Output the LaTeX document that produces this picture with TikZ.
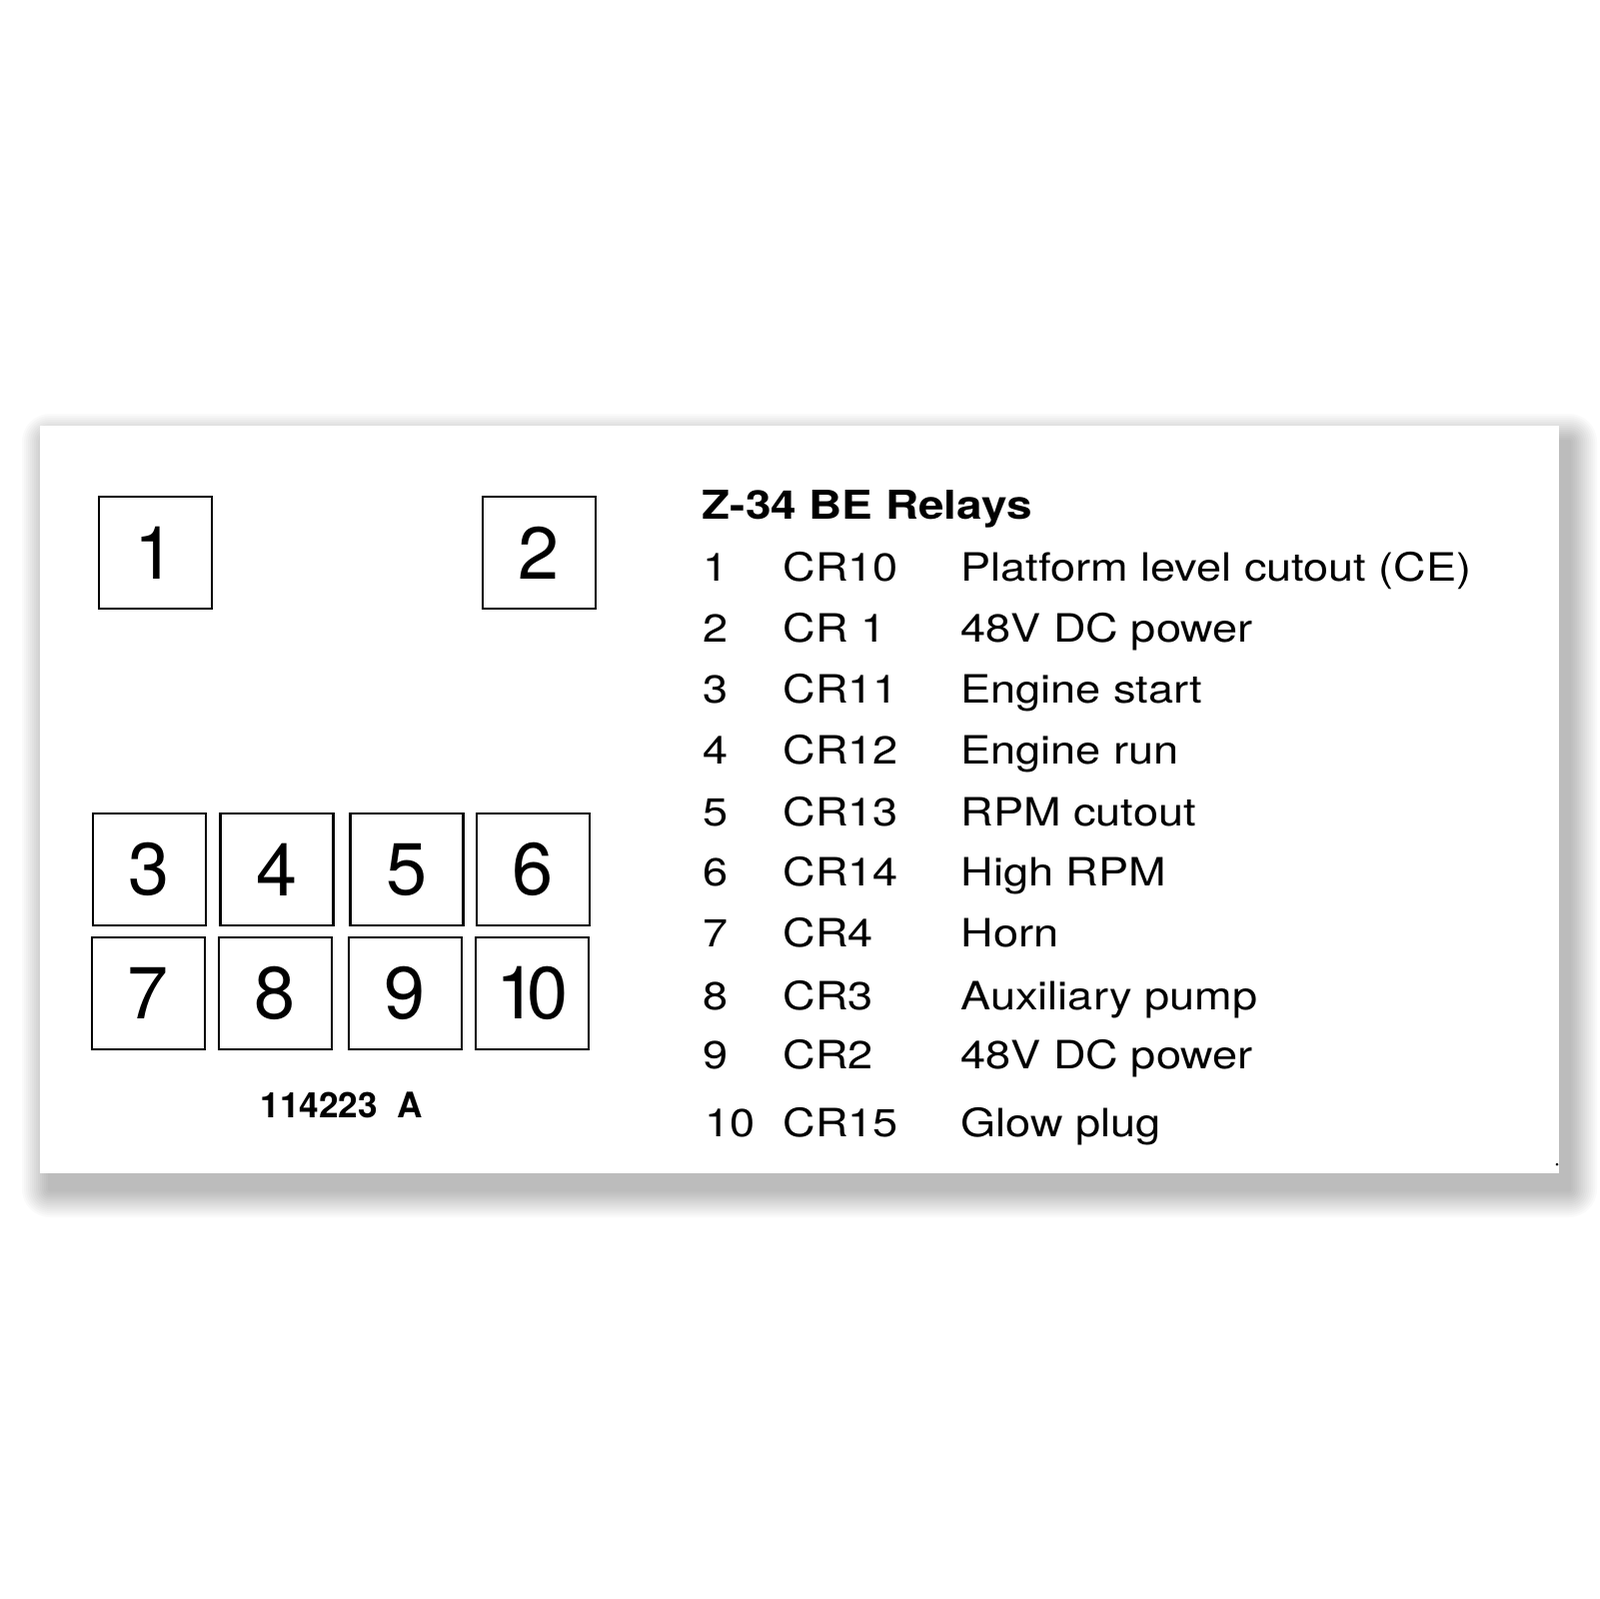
\documentclass[tikz,border=0pt]{standalone}
\usepackage{fontspec}
\setmainfont{TeX Gyre Heros}
\newfontfamily\relayfont{TeX Gyre Heros}[FakeStretch=1.155]

\begin{document}
\begin{tikzpicture}[x=0.1mm, y=-0.1mm,
	socket/.style={draw, line width=0.6pt, minimum width=11.3mm, minimum height=11.2mm, inner sep=0pt, font=\fontsize{21pt}{21pt}\selectfont},
	entry/.style={anchor=base west, inner sep=0pt, font=\relayfont\fontsize{11.1pt}{13pt}\selectfont}]
	\fill[white] (0,0) rectangle (1600,1600);
	\useasboundingbox (0,0) rectangle (1600,1600);
	% soft shadow under the card
	\foreach \r in {28,26,...,2}
		\fill[black, opacity=0.021, rounded corners=\r*0.1mm] (50-\r,442-\r) rectangle (1570+\r,1190+\r);
	% card
	\fill[white] (40,426) rectangle (1560,1174);
	% relay sockets
	\node[socket] (r1) at (155.5,553) {1};
	\node[socket] (r2) at (539.5,553) {2};
	\node[socket] (r3) at (149.5,870) {3};
	\node[socket] (r4) at (277,870) {4};
	\node[socket] (r5) at (407,870) {5};
	\node[socket] (r6) at (533.5,870) {6};
	\node[socket] (r7) at (148.5,994) {7};
	\node[socket] (r8) at (275.5,994) {8};
	\node[socket] (r9) at (405.5,994) {9};
	\node[socket] (r10) at (532.5,994) {1\kern-.14em0};
	\node[anchor=base west, inner sep=0pt, font=\bfseries\fontsize{10pt}{12pt}\selectfont] (part) at (260,1118) {114223~~A};
	% legend
	\node[entry, font=\relayfont\bfseries\fontsize{11.3pt}{13pt}\selectfont] (title) at (702,519) {Z-34 BE Relays};
	\node[entry] (n1) at (703,581) {1};
	\node[entry] (c1) at (783,581) {CR10};
	\node[entry] (d1) at (961,581) {Platform level cutout (CE)};
	\node[entry] (n2) at (703,642) {2};
	\node[entry] (c2) at (783,642) {CR 1};
	\node[entry] (d2) at (961,642) {48V DC power};
	\node[entry] (n3) at (703,703) {3};
	\node[entry] (c3) at (783,703) {CR11};
	\node[entry] (d3) at (961,703) {Engine start};
	\node[entry] (n4) at (703,764) {4};
	\node[entry] (c4) at (783,764) {CR12};
	\node[entry] (d4) at (961,764) {Engine run};
	\node[entry] (n5) at (703,826) {5};
	\node[entry] (c5) at (783,826) {CR13};
	\node[entry] (d5) at (961,826) {RPM cutout};
	\node[entry] (n6) at (703,886) {6};
	\node[entry] (c6) at (783,886) {CR14};
	\node[entry] (d6) at (961,886) {High RPM};
	\node[entry] (n7) at (703,947) {7};
	\node[entry] (c7) at (783,947) {CR4};
	\node[entry] (d7) at (961,947) {Horn};
	\node[entry] (n8) at (703,1010) {8};
	\node[entry] (c8) at (783,1010) {CR3};
	\node[entry] (d8) at (961,1010) {Auxiliary pump};
	\node[entry] (n9) at (703,1069) {9};
	\node[entry] (c9) at (783,1069) {CR2};
	\node[entry] (d9) at (961,1069) {48V DC power};
	\node[entry] (n10) at (705,1137) {10};
	\node[entry] (c10) at (783,1137) {CR15};
	\node[entry] (d10) at (961,1137) {Glow plug};
	\fill (1558,1165) circle (1.5);
\end{tikzpicture}
\end{document}
